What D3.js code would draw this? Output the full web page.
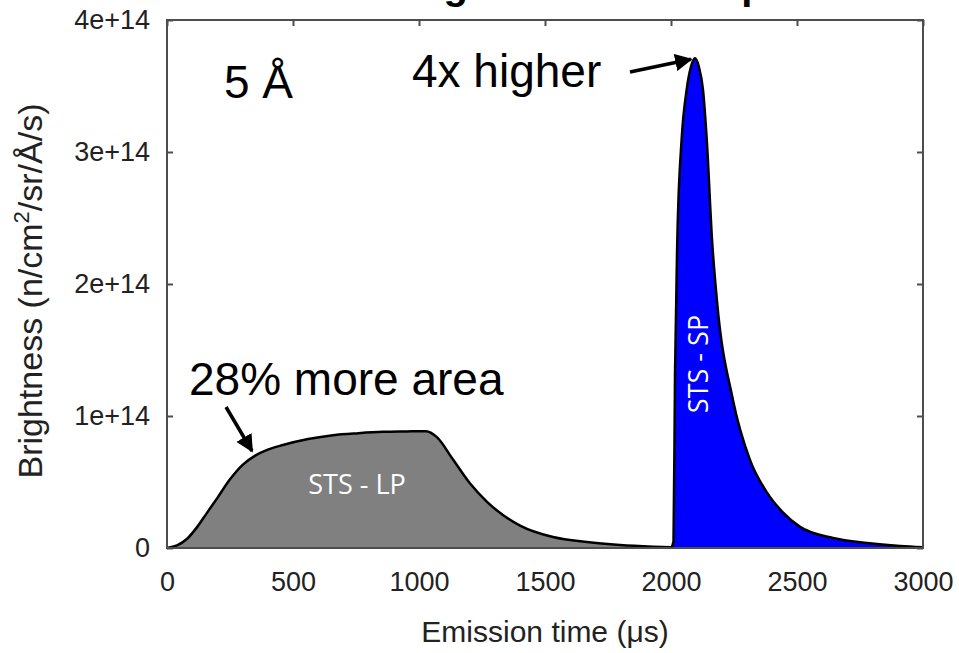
<!DOCTYPE html>
<html>
<head>
<meta charset="utf-8">
<script src="https://cdn.jsdelivr.net/npm/d3@7"></script>
<style>
  body { margin: 0; background: #fff; }
  svg { display: block; font-family: Arial, "Liberation Sans", sans-serif; }
</style>
</head>
<body>
<svg id="chart" width="959" height="653"></svg>
<script>
// values (brightness in units of 1e14)
const lpTime  = [0, 40, 80, 120, 160, 200, 250, 300, 350, 400, 460, 560, 659, 760, 857, 950, 1028, 1071, 1135, 1202, 1270, 1333, 1401, 1532, 1667, 1798, 1929, 2000];
const lpValue = [0, 0.02, 0.07, 0.16, 0.27, 0.38, 0.52, 0.63, 0.70, 0.745, 0.78, 0.825, 0.855, 0.87, 0.88, 0.883, 0.885, 0.84, 0.67, 0.49, 0.35, 0.25, 0.17, 0.083, 0.045, 0.023, 0.01, 0.005];

const spTime  = [2000, 2010, 2016, 2025, 2042, 2062, 2080, 2095, 2110, 2127, 2142, 2163, 2182, 2246, 2313, 2381, 2444, 2512, 2643, 2778, 2909, 3000];
const spValue = [0, 0.05, 1.33, 2.33, 3.09, 3.47, 3.65, 3.71, 3.65, 3.47, 3.09, 2.33, 1.88, 1.12, 0.67, 0.42, 0.27, 0.16, 0.076, 0.038, 0.015, 0.005];

const xTicks = [0, 500, 1000, 1500, 2000, 2500, 3000];
const yTicks = [0, 1, 2, 3, 4];
const yTickLabels = ["0", "1e+14", "2e+14", "3e+14", "4e+14"];

const svg = d3.select("#chart");
const margin = {left: 167, right: 36, top: 20, bottom: 105};
const W = 959, H = 653;

const x = d3.scaleLinear().domain([0, 3000]).range([margin.left, W - margin.right]);
const y = d3.scaleLinear().domain([0, 4]).range([H - margin.bottom, margin.top]);

// title, cut off at the top edge as in the slide
svg.append("text")
  .attr("x", 545).attr("y", -1)
  .attr("text-anchor", "middle")
  .attr("font-weight", "bold")
  .attr("font-size", 40)
  .text("Tailoring the Pulse Shape");

const lp = lpTime.map((t, i) => ({t: t, v: lpValue[i]}));
const sp = spTime.map((t, i) => ({t: t, v: spValue[i]}));

const area = d3.area()
  .x(d => x(d.t))
  .y0(y(0))
  .y1(d => y(d.v))
  .curve(d3.curveMonotoneX);

const line = d3.line()
  .x(d => x(d.t))
  .y(d => y(d.v))
  .curve(d3.curveMonotoneX);

svg.append("path").datum(lp).attr("d", area).attr("fill", "#808080");
svg.append("path").datum(sp).attr("d", area).attr("fill", "#0000ff");
svg.append("path").datum(lp).attr("d", line)
  .attr("fill", "none").attr("stroke", "#000").attr("stroke-width", 2.5);
svg.append("path").datum(sp).attr("d", line)
  .attr("fill", "none").attr("stroke", "#000").attr("stroke-width", 2.5);

// frame
svg.append("rect")
  .attr("x", x(0)).attr("y", y(4))
  .attr("width", x(3000) - x(0)).attr("height", y(0) - y(4))
  .attr("fill", "none").attr("stroke", "#4d4d4d").attr("stroke-width", 2);

// axes, ticks pointing inward
const fmt = d => yTickLabels[yTicks.indexOf(d)];
const gl = svg.append("g").attr("transform", `translate(${x(0)},0)`)
  .call(d3.axisLeft(y).tickValues(yTicks).tickFormat(fmt).tickSize(-6).tickPadding(17));
const gr = svg.append("g").attr("transform", `translate(${x(3000)},0)`)
  .call(d3.axisRight(y).tickValues(yTicks).tickFormat("").tickSize(-6));
const gt = svg.append("g").attr("transform", `translate(0,${y(4)})`)
  .call(d3.axisTop(x).tickValues(xTicks).tickFormat("").tickSize(-6));
const gb = svg.append("g").attr("transform", `translate(0,${y(0)})`)
  .call(d3.axisBottom(x).tickValues(xTicks).tickFormat(d3.format("d")).tickSize(0).tickPadding(24));

[gl, gr, gt, gb].forEach(g => {
  g.select(".domain").remove();
  g.selectAll(".tick line").attr("stroke", "#4d4d4d").attr("stroke-width", 2);
  g.selectAll("text").attr("font-size", 27).attr("fill", "#222").attr("font-family", "Arial, 'Liberation Sans', sans-serif");
});
gb.selectAll(".tick line").remove();

// axis titles
svg.append("text")
  .attr("x", 545).attr("y", 642)
  .attr("text-anchor", "middle").attr("font-size", 30).attr("fill", "#222")
  .html("Emission time (&#956;s)");

const yt = svg.append("text")
  .attr("transform", "translate(42,291) rotate(-90)")
  .attr("text-anchor", "middle").attr("font-size", 34).attr("fill", "#222");
yt.append("tspan").text("Brightness (n/cm");
yt.append("tspan").attr("font-size", 22).attr("dy", -13).text("2");
yt.append("tspan").attr("dy", 13).text("/sr/Å/s)");

// labels inside the pulses
svg.append("text")
  .attr("x", 357).attr("y", 494)
  .attr("text-anchor", "middle").attr("font-size", 27).attr("fill", "#fff")
  .attr("font-family", "'Open Sans', Lato, sans-serif")
  .text("STS - LP");
svg.append("text")
  .attr("transform", "translate(708,364) rotate(-90)")
  .attr("text-anchor", "middle").attr("font-size", 27).attr("fill", "#fff")
  .attr("font-family", "'Open Sans', Lato, sans-serif")
  .text("STS - SP");

// annotations
svg.append("defs").append("marker")
  .attr("id", "head").attr("viewBox", "0 0 10 10")
  .attr("refX", 9).attr("refY", 5)
  .attr("markerWidth", 5).attr("markerHeight", 5)
  .attr("markerUnits", "strokeWidth")
  .attr("orient", "auto")
  .append("path").attr("d", "M0,0 L10,5 L0,10 z").attr("fill", "#000");

svg.append("text").attr("x", 224).attr("y", 98)
  .attr("font-size", 46).attr("fill", "#000").text("5 Å");
svg.append("text").attr("x", 412).attr("y", 87)
  .attr("font-size", 46).attr("fill", "#000").text("4x higher");
svg.append("text").attr("x", 189).attr("y", 395)
  .attr("font-size", 46).attr("fill", "#000").text("28% more area");

svg.append("line")
  .attr("x1", 630).attr("y1", 72).attr("x2", x(2095) - 4).attr("y2", y(3.71) + 1)
  .attr("stroke", "#000").attr("stroke-width", 3.5).attr("marker-end", "url(#head)");
svg.append("line")
  .attr("x1", 226).attr("y1", 407).attr("x2", 252).attr("y2", 451)
  .attr("stroke", "#000").attr("stroke-width", 3.5).attr("marker-end", "url(#head)");
</script>
</body>
</html>
